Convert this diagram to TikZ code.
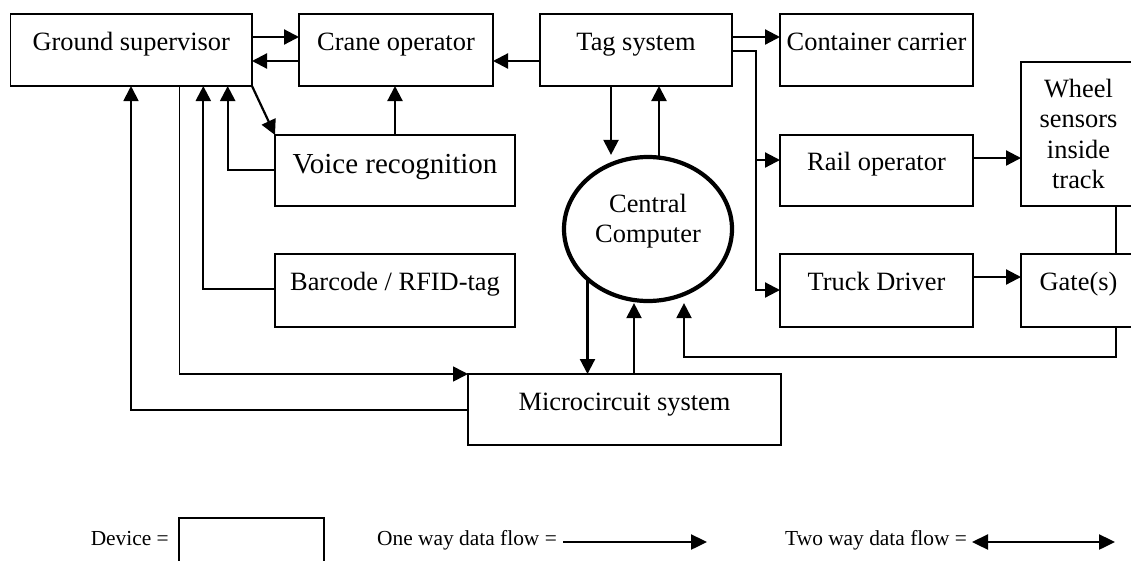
\documentclass[tikz,border=0pt]{standalone}
\usepackage{fontspec}
\setmainfont{Liberation Serif}
\usetikzlibrary{arrows.meta,shapes.geometric}
\pgfdeclarelayer{bg}
\pgfsetlayers{bg,main}
\begin{document}
\begin{tikzpicture}[x=1pt,y=-1pt,
  mainfont/.style={font=\fontsize{26.4pt}{30.5pt}\selectfont},
  dev/.style={draw, line width=1.4pt, rectangle, anchor=north west, inner sep=0pt, outer sep=0pt,
    minimum height=72pt, text height=36pt, text depth=36pt, mainfont},
  arr/.style={line width=2.2pt, -{Triangle[length=15pt,width=15pt]}},
  thinlink/.style={line width=1.3pt},
  legtxt/.style={inner sep=0pt, font=\fontsize{21.4pt}{24pt}\selectfont},
  legtip/.tip={Triangle[length=16pt,width=15pt]},
  legarr/.style={line width=2.4pt}
]
\useasboundingbox (0,0) rectangle (1131,560);

% devices
\node[dev, minimum width=241.5pt] (gs) at (10.5,14) {Ground supervisor};
\node[dev, minimum width=194pt] (cr) at (299,14) {Crane operator};
\node[dev, minimum width=192pt] (tag) at (540,14) {Tag system};
\node[dev, minimum width=193pt] (cont) at (780,14) {Container carrier};
\node[dev, minimum width=240pt, minimum height=71pt, text height=38pt, text depth=33pt,
      font=\fontsize{29pt}{33pt}\selectfont] (vo) at (275,135) {Voice recognition};
\node[dev, minimum width=240pt, minimum height=73pt, text depth=37pt] (bc) at (275,254) {Barcode / RFID-tag};
\node[dev, minimum width=193pt, minimum height=71pt, text height=35pt] (rail) at (780,135) {Rail operator};
\node[dev, minimum width=193pt, minimum height=73pt, text depth=37pt] (truck) at (780,254) {Truck Driver};
\node[dev, minimum width=115pt, minimum height=73pt, text depth=37pt] (gate) at (1021,254) {Gate(s)};
\node[draw, line width=1.4pt, rectangle, anchor=north west, inner sep=0pt, outer sep=0pt,
      minimum width=115pt, minimum height=144pt, align=center, mainfont] (wh) at (1021,62)
      {Wheel\\sensors\\inside\\track};
\node[dev, minimum width=313pt, minimum height=71pt, text depth=35pt] (mc) at (468,374) {Microcircuit system};
\node[ellipse, draw, line width=4.2pt, fill=white, minimum width=168pt, minimum height=144pt,
      inner sep=0pt] (cc) at (648,229) {};
\node[align=center, inner sep=0pt, mainfont] (cct) at (648,221) {Central\\Computer};

% connectors
\draw[arr] (gs.east |- 0,37) -- (cr.west |- 0,37);
\draw[arr] (cr.west |- 0,61) -- (gs.east |- 0,61);
\draw[arr] (tag.west |- 0,61) -- (cr.east |- 0,61);
\draw[arr] (tag.east |- 0,37) -- (cont.west |- 0,37);
\coordinate (bus) at (756,290);
\coordinate (bj) at (756,160);
\draw[arr] (tag.east |- 0,51) -| (bus) -- (truck.west |- bus);
\draw[arr] (bj) -- (rail.west |- bj);
\draw[arr] (rail.east |- 0,158) -- (wh.west |- 0,158);
\draw[arr] (truck.east |- 0,277) -- (gate.west |- 0,277);
\draw[thinlink] (wh.south -| 1116,0) -- (gate.north -| 1116,0);
\draw[arr] (gate.south -| 1116,0) -- (1116,357) -| (cc.south -| 684,0);
\draw[arr] (tag.south -| 611,0) -- (cc.north -| 611,0);
\draw[arr] (mc.north -| 634,0) -- (cc.south -| 634,0);
\begin{pgfonlayer}{bg}
\draw[arr] (cc.center -| 659,0) -- (tag.south -| 659,0);
\draw[arr] (cc.center -| 587.5,0) -- (mc.north -| 587.5,0);
\end{pgfonlayer}
\draw[arr] (vo.north -| 395,0) -- (cr.south -| 395,0);
\draw[arr] (gs.south east) -- (vo.north west);
\draw[arr] (vo.west |- 0,170) -| (gs.south -| 227.7,0);
\draw[arr] (bc.west |- 0,289) -| (gs.south -| 203.3,0);
\draw[arr, line width=1.6pt] (gs.south -| 179.3,0) |- (mc.north west);
\draw[arr, line width=1.8pt] (mc.west |- 0,410) -| (gs.south -| 131,0);

% legend
\node[legtxt, anchor=base east] (ldev) at (169,545) {Device =};
\node[draw, line width=2pt, anchor=north west, inner sep=0pt, minimum width=145pt, minimum height=60pt] (lbox) at (178,517) {};
\node[legtxt, anchor=base west] (lone) at (377,545) {One way data flow =};
\coordinate (o1) at (563,542);
\coordinate (o2) at (707,542);
\draw[legarr, -legtip] (o1) -- (o2);
\node[legtxt, anchor=base west] (ltwo) at (785,545) {Two way data flow =};
\coordinate (t1) at (972,542);
\coordinate (t2) at (1115,542);
\draw[legarr, legtip-legtip] (t1) -- (t2);
\end{tikzpicture}
\end{document}
